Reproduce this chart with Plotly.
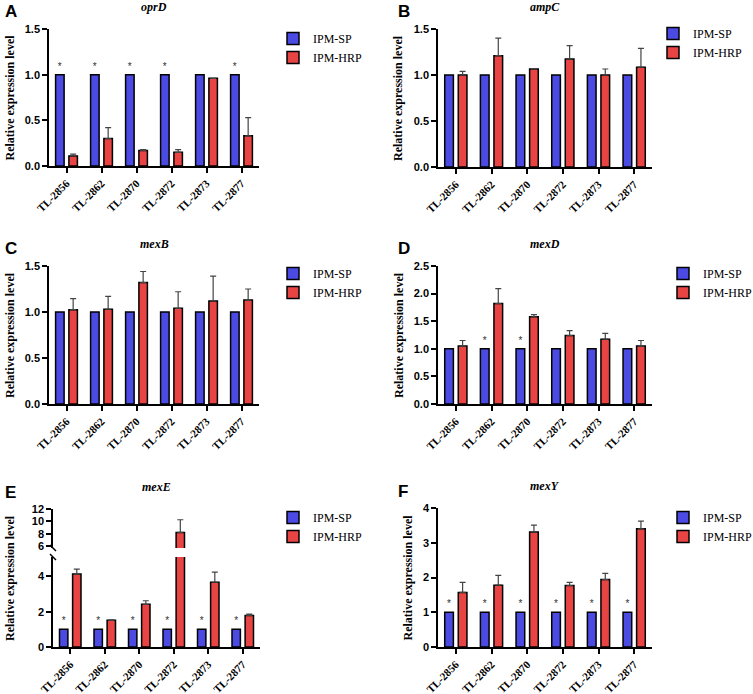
import plotly.graph_objects as go

W, H = 753, 694

strains = ["TL-2856", "TL-2862", "TL-2870", "TL-2872", "TL-2873", "TL-2877"]
series_names = ["IPM-SP", "IPM-HRP"]

# oprD
oprD_sp = [1.0, 1.0, 1.0, 1.0, 1.0, 1.0]
oprD_hrp = [0.11, 0.30, 0.17, 0.15, 0.96, 0.33]
oprD_hrp_err = [0.02, 0.12, 0.01, 0.03, 0.0, 0.20]
oprD_star = ["*", "*", "*", "*", "", "*"]

# ampC
ampC_sp = [1.0, 1.0, 1.0, 1.0, 1.0, 1.0]
ampC_hrp = [1.0, 1.21, 1.065, 1.175, 1.0, 1.085]
ampC_hrp_err = [0.04, 0.19, 0.005, 0.145, 0.065, 0.205]
ampC_star = ["", "", "", "", "", ""]

# mexB
mexB_sp = [1.0, 1.0, 1.0, 1.0, 1.0, 1.0]
mexB_hrp = [1.025, 1.03, 1.32, 1.04, 1.12, 1.13]
mexB_hrp_err = [0.12, 0.14, 0.12, 0.18, 0.27, 0.12]
mexB_star = ["", "", "", "", "", ""]

# mexD
mexD_sp = [1.0, 1.0, 1.0, 1.0, 1.0, 1.0]
mexD_hrp = [1.05, 1.82, 1.58, 1.24, 1.175, 1.05]
mexD_hrp_err = [0.10, 0.27, 0.04, 0.09, 0.105, 0.10]
mexD_star = ["", "*", "*", "", "", ""]

# mexE
mexE_sp = [1.0, 1.0, 1.0, 1.0, 1.0, 1.0]
mexE_hrp = [4.13, 1.51, 2.42, 8.2, 3.67, 1.79]
mexE_hrp_err = [0.28, 0.03, 0.20, 2.06, 0.57, 0.07]
mexE_star = ["*", "*", "*", "*", "*", "*"]

# mexY
mexY_sp = [1.0, 1.0, 1.0, 1.0, 1.0, 1.0]
mexY_hrp = [1.57, 1.78, 3.31, 1.77, 1.94, 3.40]
mexY_hrp_err = [0.29, 0.28, 0.20, 0.09, 0.18, 0.22]
mexY_star = ["*", "*", "*", "*", "*", "*"]

BLUE = "#4B4BE3"
RED = "#E84444"
SERIF = "Liberation Serif"
SANS = "Liberation Sans"


def px(x):
    return x / W


def py(y):
    return 1 - y / H


panels = [
    dict(letter="A", gene="oprD", sp=oprD_sp, hrp=oprD_hrp, err=oprD_hrp_err, star=oprD_star,
         xd=(49, 259), yd=(29, 166), yr=[0, 1.5], dt=0.5, fmt=".1f", lx=273, ly=24, tx=10),
    dict(letter="B", gene="ampC", sp=ampC_sp, hrp=ampC_hrp, err=ampC_hrp_err, star=ampC_star,
         xd=(438, 652), yd=(29, 167), yr=[0, 1.5], dt=0.5, fmt=".1f", lx=653, ly=19, tx=398),
    dict(letter="C", gene="mexB", sp=mexB_sp, hrp=mexB_hrp, err=mexB_hrp_err, star=mexB_star,
         xd=(49, 259), yd=(266, 404), yr=[0, 1.5], dt=0.5, fmt=".1f", lx=273, ly=259, tx=10),
    dict(letter="D", gene="mexD", sp=mexD_sp, hrp=mexD_hrp, err=mexD_hrp_err, star=mexD_star,
         xd=(438, 652), yd=(266, 404), yr=[0, 2.5], dt=0.5, fmt=".1f", lx=663, ly=259, tx=399),
    dict(letter="E", gene="mexE", sp=mexE_sp, hrp=mexE_hrp, err=mexE_hrp_err, star=mexE_star,
         xd=(53, 260), yd=(557, 647), yr=[0, 5.1], dt=2, fmt="d", lx=273, ly=503, tx=10),
    dict(letter="F", gene="mexY", sp=mexY_sp, hrp=mexY_hrp, err=mexY_hrp_err, star=mexY_star,
         xd=(438, 652), yd=(508, 647), yr=[0, 4], dt=1, fmt="d", lx=663, ly=503, tx=407),
]

fig = go.Figure()
layout = dict(
    width=W, height=H, margin=dict(l=0, r=0, t=0, b=0, autoexpand=False),
    paper_bgcolor="white", plot_bgcolor="white",
    barmode="group", bargap=0.24, bargroupgap=0.36,
    showlegend=True,
)
annotations = []
shapes = []

axis_common = dict(showgrid=False, zeroline=False, showline=True, linecolor="black",
                   linewidth=1.5, ticks="outside", ticklen=5, tickwidth=1.5, tickcolor="black",
                   automargin=False)

star_font = dict(size=10, color="#333333", family=SANS)


def add_bars(i, p, xa, ya, legend, show, with_text=True):
    fig.add_trace(go.Bar(
        x=strains, y=p["sp"], name=series_names[0], xaxis=xa, yaxis=ya,
        marker=dict(color=BLUE, line=dict(color="black", width=1.5)),
        text=p["star"] if with_text else None, textposition="outside",
        textfont=star_font, outsidetextfont=star_font, cliponaxis=False,
        legend=legend, showlegend=show,
    ))
    fig.add_trace(go.Bar(
        x=strains, y=p["hrp"], name=series_names[1], xaxis=xa, yaxis=ya,
        marker=dict(color=RED, line=dict(color="black", width=1.5)),
        error_y=dict(type="data", array=p["err"], arrayminus=[0] * len(p["err"]),
                     symmetric=False, color="#444444", thickness=1.2, width=3),
        legend=legend, showlegend=show,
    ))


for i, p in enumerate(panels, start=1):
    xa = "x" if i == 1 else f"x{i}"
    ya = "y" if i == 1 else f"y{i}"
    legend = "legend" if i == 1 else f"legend{i}"
    add_bars(i, p, xa, ya, legend, True)
    xkey = "xaxis" if i == 1 else f"xaxis{i}"
    ykey = "yaxis" if i == 1 else f"yaxis{i}"
    layout[xkey] = dict(axis_common, domain=[px(p["xd"][0]), px(p["xd"][1])], anchor=ya,
                        type="category", range=[-0.5, 5.5], tickangle=-45,
                        tickfont=dict(family=SERIF, size=11, color="black", weight="bold"))
    ytickfont = dict(family=SANS, size=11, color="black", weight="bold")
    layout[ykey] = dict(axis_common, domain=[py(p["yd"][1]), py(p["yd"][0])], anchor=xa,
                        range=p["yr"], dtick=p["dt"], tick0=0, tickformat=p["fmt"],
                        tickfont=ytickfont)
    layout[legend] = dict(x=px(p["lx"]), y=py(p["ly"]), xanchor="left", yanchor="top",
                          font=dict(family=SERIF, size=12, color="black"),
                          bgcolor="rgba(0,0,0,0)", tracegroupgap=0)
    top = p["yd"][0] if i != 5 else 509
    # panel letter
    annotations.append(dict(text=f"<b>{p['letter']}</b>", x=px(3 if p["xd"][0] < 300 else 396),
                            y=py(top - 17), xref="paper", yref="paper",
                            xanchor="left", yanchor="middle", showarrow=False,
                            font=dict(family=SANS, size=17, color="black")))
    # gene title
    annotations.append(dict(text=f"<b><i>{p['gene']}</i></b>", x=(px(p["xd"][0]) + px(p["xd"][1])) / 2,
                            y=py(top - 22), xref="paper", yref="paper",
                            xanchor="center", yanchor="middle", showarrow=False,
                            font=dict(family=SERIF, size=12, color="black")))
    # y axis title
    bottom = p["yd"][1]
    annotations.append(dict(text="<b>Relative expression level</b>", x=px(p["tx"]),
                            y=py((top + bottom) / 2), xref="paper", yref="paper",
                            xanchor="center", yanchor="middle", textangle=-90, showarrow=False,
                            font=dict(family=SERIF, size=12, color="black")))

# broken axis: upper segment of panel E
pE = panels[4]
add_bars(5, pE, "x5", "y7", "legend5", False, with_text=False)
layout["yaxis7"] = dict(axis_common, domain=[py(548), py(509)], anchor="x5",
                        range=[5.68, 12], tickvals=[6, 8, 10, 12],
                        tickfont=dict(family=SANS, size=11, color="black", weight="bold"))

for yref, anchor in (("y7 domain", 0), ("y5 domain", 1)):
    shapes.append(dict(type="line", xref="x5 domain", yref=yref,
                       xsizemode="pixel", ysizemode="pixel", xanchor=0, yanchor=anchor,
                       x0=-3, x1=3, y0=3, y1=-3, line=dict(color="black", width=1.5)))

layout["annotations"] = annotations
layout["shapes"] = shapes
fig.update_layout(**layout)
fig.write_html("out.html", config={"displayModeBar": False},
               post_script="document.body.style.margin='0';document.body.style.overflow='hidden';")
